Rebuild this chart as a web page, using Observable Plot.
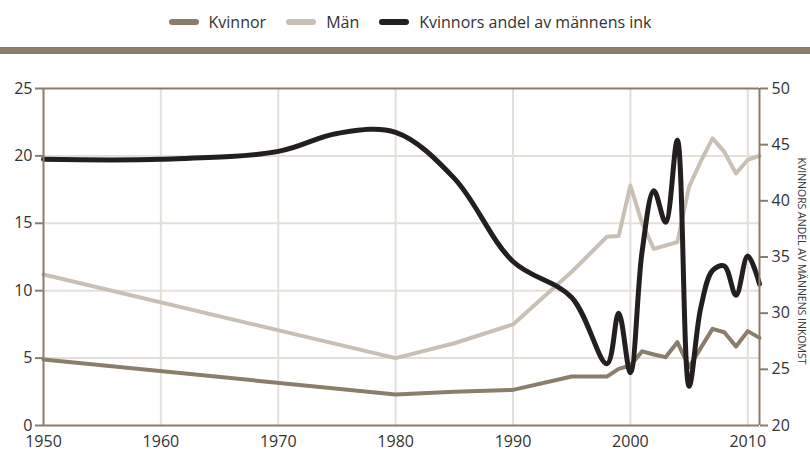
<!DOCTYPE html>
<html>
<head>
<meta charset="utf-8">
<script src="https://cdn.jsdelivr.net/npm/d3@7"></script>
<script src="https://cdn.jsdelivr.net/npm/@observablehq/plot@0.6"></script>
<style>
  html, body { margin: 0; padding: 0; background: #fff; }
  #wrap { position: relative; width: 810px; height: 453px; overflow: hidden; font-family: "Open Sans", sans-serif; }
  #legend { position: absolute; top: 0; left: 5px; width: 810px; height: 44px; display: flex; justify-content: center; align-items: center; font-size: 16px; color: #333; }
  .item { display: flex; align-items: center; margin: 0 10px; }
  .sw { width: 30px; height: 6px; border-radius: 3px; margin-right: 10px; }
  #band { position: absolute; top: 47px; left: 0; width: 810px; height: 7px; background: #8b7d6b; }
  #chart { position: absolute; top: 60px; left: 0; }
</style>
</head>
<body>
<div id="wrap">
  <div id="legend"></div>
  <div id="band"></div>
  <div id="chart"></div>
</div>
<script>
// Data
const years   = [1950, 1980, 1985, 1990, 1995, 1998, 1999, 2000, 2001, 2002, 2003, 2004, 2005, 2006, 2007, 2008, 2009, 2010, 2011];
const kvinnor = [4.9, 2.3, 2.5, 2.64, 3.63, 3.63, 4.2, 4.45, 5.5, 5.27, 5.07, 6.18, 4.33, 5.76, 7.17, 6.92, 5.86, 7.0, 6.5];
const man     = [11.2, 5.0, 6.1, 7.5, 11.4, 14.0, 14.05, 17.8, 15.0, 13.1, 13.35, 13.6, 17.7, 19.6, 21.3, 20.3, 18.7, 19.7, 20.0];

const andelYears = [1950, 1960, 1970, 1975, 1980, 1985, 1990, 1995, 1998, 1999, 2000, 2001, 2002, 2003, 2004, 2005, 2006, 2007, 2008, 2009, 2010, 2011];
const andel      = [43.7, 43.7, 44.4, 46.0, 46.1, 42.0, 34.6, 31.4, 25.5, 30.0, 24.7, 35.5, 40.9, 38.1, 45.4, 23.5, 30.5, 33.8, 34.2, 31.6, 35.1, 32.6];

const seriesNames = ["Kvinnor", "Män", "Kvinnors andel av männens ink"];
const seriesColors = ["#8b7d6b", "#c8c0b5", "#231f20"];
const xTicks = [1950, 1960, 1970, 1980, 1990, 2000, 2010];
const leftTicks = [0, 5, 10, 15, 20, 25];
const rightTicks = [20, 25, 30, 35, 40, 45, 50];
const rightLabel = "KVINNORS ANDEL AV MÄNNENS INKOMST";

const leftDomain = [0, 25];
const rightDomain = [20, 50];
const toLeft = r => leftDomain[0] + (r - rightDomain[0]) * (leftDomain[1] - leftDomain[0]) / (rightDomain[1] - rightDomain[0]);
const toRight = v => rightDomain[0] + (v - leftDomain[0]) * (rightDomain[1] - rightDomain[0]) / (leftDomain[1] - leftDomain[0]);

const rows = years.map((y, i) => ({year: y, kvinnor: kvinnor[i], man: man[i]}));
const andelRows = andelYears.map((y, i) => ({year: y, andel: andel[i]}));

// Legend
const legend = document.getElementById("legend");
seriesNames.forEach((n, i) => {
  const it = document.createElement("div");
  it.className = "item";
  const sw = document.createElement("span");
  sw.className = "sw";
  sw.style.background = seriesColors[i];
  const tx = document.createElement("span");
  tx.textContent = n;
  it.appendChild(sw); it.appendChild(tx);
  legend.appendChild(it);
});

const axisColor = "#8b7d6b";
const gridColor = "#e4e0d9";
const textColor = "#333";

const chart = Plot.plot({
  width: 810,
  height: 393,
  marginTop: 28,
  marginBottom: 28,
  marginLeft: 43,
  marginRight: 51,
  style: {fontFamily: "Open Sans", fontSize: "16px", color: textColor, background: "transparent"},
  x: {domain: [1950, 2011]},
  y: {domain: leftDomain},
  marks: [
    Plot.gridX(xTicks.slice(1), {stroke: gridColor, strokeOpacity: 1, strokeWidth: 2}),
    Plot.gridY(leftTicks.slice(1, -1), {stroke: gridColor, strokeOpacity: 1, strokeWidth: 2}),
    Plot.line(rows, {x: "year", y: "man", stroke: seriesColors[1], strokeWidth: 4}),
    Plot.line(rows, {x: "year", y: "kvinnor", stroke: seriesColors[0], strokeWidth: 4}),
    Plot.line(andelRows, {x: "year", y: d => toLeft(d.andel), stroke: seriesColors[2], strokeWidth: 5, curve: "catmull-rom"}),
    Plot.ruleY(leftDomain, {stroke: axisColor, strokeWidth: 2}),
    Plot.ruleX([1950, 2011], {stroke: axisColor, strokeWidth: 2}),
    Plot.axisY(leftTicks, {anchor: "left", tickSize: 8, tickPadding: 3, stroke: axisColor, strokeWidth: 2, label: null, fill: textColor}),
    Plot.axisY(rightTicks.map(toLeft), {anchor: "right", tickSize: 8, tickPadding: 4, stroke: axisColor, strokeWidth: 2, tickFormat: v => String(Math.round(toRight(v))), label: null, fill: textColor}),
    Plot.axisX(xTicks, {anchor: "bottom", tickSize: 0, tickPadding: 10, tickFormat: d => String(d), label: null, fill: textColor, fontSize: 16}),
    Plot.text([rightLabel], {frameAnchor: "right", textAnchor: "middle", rotate: 90, dx: 42, dy: 4, fontSize: 10.5, fill: textColor, fontFamily: "Open Sans"})
  ]
});
document.getElementById("chart").appendChild(chart);
</script>
</body>
</html>
